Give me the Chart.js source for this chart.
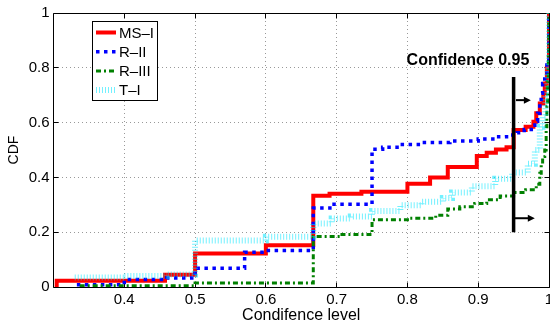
<!DOCTYPE html>
<html><head><meta charset="utf-8">
<script src="https://cdn.jsdelivr.net/npm/chart.js@4.4.1/dist/chart.umd.min.js"></script>
<style>
html,body{margin:0;padding:0;overflow:hidden;background:#fff;width:550px;height:324px}
#wrap{position:absolute;left:0;top:0;width:560px;height:324px}
</style>
</head><body><div id="wrap"><canvas id="c" width="560" height="324"></canvas></div>
<script>
// ---- data ----
const seriesNames = ['MS\u2013I', 'R\u2013II', 'R\u2013III', 'T\u2013I'];

const msI_x = [0.3045, 0.3045, 0.4575, 0.5, 0.6, 0.667, 0.69, 0.735, 0.8, 0.832, 0.857, 0.898, 0.912, 0.925, 0.94, 0.95, 0.967, 0.978, 0.982, 0.987, 0.992, 0.994, 0.997, 1.0];
const msI_y = [0, 0.023, 0.045, 0.122, 0.152, 0.333, 0.34, 0.348, 0.377, 0.40, 0.438, 0.478, 0.49, 0.502, 0.51, 0.573, 0.585, 0.603, 0.634, 0.67, 0.707, 0.743, 0.8, 1.0];

const rII_x = [0.333, 0.4, 0.46, 0.5, 0.57, 0.6, 0.667, 0.693, 0.75, 0.765, 0.79, 0.82, 0.86, 0.9, 0.925, 0.94, 0.955, 0.965, 0.975, 0.98, 0.984, 0.987, 0.989, 0.991, 0.994, 0.997, 1.0];
const rII_y = [0.008, 0.027, 0.033, 0.068, 0.127, 0.133, 0.288, 0.302, 0.503, 0.51, 0.52, 0.527, 0.533, 0.54, 0.548, 0.555, 0.563, 0.575, 0.59, 0.605, 0.634, 0.67, 0.707, 0.743, 0.78, 0.82, 1.0];

const rIII_x = [0.337, 0.5, 0.667, 0.705, 0.75, 0.8, 0.84, 0.857, 0.874, 0.895, 0.912, 0.931, 0.95, 0.967, 0.982, 0.987, 0.989, 0.991, 0.994, 0.996, 0.997, 0.998, 0.999, 1.0];
const rIII_y = [0.005, 0.015, 0.184, 0.192, 0.245, 0.251, 0.262, 0.285, 0.293, 0.305, 0.318, 0.332, 0.345, 0.355, 0.375, 0.415, 0.45, 0.476, 0.5, 0.585, 0.66, 0.75, 0.85, 1.0];

const tI_x = [0.33, 0.4, 0.46, 0.5, 0.6, 0.667, 0.693, 0.72, 0.75, 0.79, 0.82, 0.85, 0.863, 0.891, 0.924, 0.948, 0.97, 0.98, 0.987, 0.991, 0.995, 0.998, 1.0];
const tI_y = [0.035, 0.04, 0.046, 0.17, 0.183, 0.232, 0.25, 0.257, 0.277, 0.298, 0.311, 0.325, 0.345, 0.368, 0.395, 0.418, 0.45, 0.5, 0.585, 0.62, 0.7, 0.8, 1.0];

const thresholdX = [0.95, 0.95];
const thresholdY = [0.2, 0.766];
const arrowY = [0.682, 0.251];
const arrowX0 = [0.9533, 0.9518];
const arrowX1 = [0.9744, 0.980];
const annotationText = 'Confidence 0.95';
const annotationPos = [0.8855, 0.828];

const xTicks = [0.4, 0.5, 0.6, 0.7, 0.8, 0.9, 1];
const xTickLabels = ['0.4', '0.5', '0.6', '0.7', '0.8', '0.9', '1'];
const yTicks = [0, 0.2, 0.4, 0.6, 0.8, 1];
const yTickLabels = ['0', '0.2', '0.4', '0.6', '0.8', '1'];
const xTitle = 'Condifence level';
const yTitle = 'CDF';

// ---- chart ----
const FONT = "'Liberation Sans', Arial, Helvetica, sans-serif";
function pts(xs, ys) { return xs.map((x, i) => ({x: x, y: ys[i]})); }

const styles = [
  {color: '#ff0000', width: 4, dash: []},
  {color: '#0000ff', width: 3.5, dash: [3.5, 4.5]},
  {color: '#008000', width: 3, dash: [5, 3, 2, 3]},
  {color: 'rgba(0,230,255,0.55)', width: 6, dash: [1, 2]}
];
const seriesData = [pts(msI_x, msI_y), pts(rII_x, rII_y), pts(rIII_x, rIII_y), pts(tI_x, tI_y)];

const datasets = seriesNames.map((n, i) => ({
  label: n, data: seriesData[i], borderColor: styles[i].color, borderWidth: styles[i].width,
  borderDash: styles[i].dash, stepped: true, pointRadius: 0, fill: false,
  borderCapStyle: 'butt', borderJoinStyle: 'miter', order: 4 - i
}));
datasets.push({label: 'threshold', data: pts(thresholdX, thresholdY), borderColor: '#000', borderWidth: 3.5,
  pointRadius: 0, fill: false, order: 0, borderCapStyle: 'butt'});

const al = v => Math.floor(v) + 0.5;

const framePlugin = {
  id: 'frame',
  beforeDatasetsDraw(chart) {
    const {ctx, chartArea: a, scales: {x, y}} = chart;
    ctx.save();
    ctx.strokeStyle = '#000'; ctx.lineWidth = 1; ctx.setLineDash([]);
    ctx.beginPath();
    ctx.moveTo(al(a.left), al(a.top)); ctx.lineTo(al(a.right), al(a.top));
    ctx.lineTo(al(a.right), al(a.bottom)); ctx.lineTo(al(a.left), al(a.bottom)); ctx.closePath();
    ctx.stroke();
    ctx.beginPath();
    xTicks.forEach(v => {
      const px = al(x.getPixelForValue(v));
      ctx.moveTo(px, al(a.bottom)); ctx.lineTo(px, al(a.bottom) - 5);
      ctx.moveTo(px, al(a.top)); ctx.lineTo(px, al(a.top) + 5);
    });
    yTicks.forEach(v => {
      const py = al(y.getPixelForValue(v));
      ctx.moveTo(al(a.left), py); ctx.lineTo(al(a.left) + 5, py);
      ctx.moveTo(al(a.right), py); ctx.lineTo(al(a.right) - 5, py);
    });
    ctx.stroke();
    ctx.restore();
  },
  afterDatasetsDraw(chart) {
    const {ctx, chartArea: a, scales: {x, y}} = chart;
    ctx.save();
    // arrows
    ctx.strokeStyle = '#000'; ctx.fillStyle = '#000'; ctx.lineWidth = 2; ctx.setLineDash([]);
    arrowY.forEach((yv, i) => {
      const py = y.getPixelForValue(yv);
      const x0 = x.getPixelForValue(arrowX0[i]), x1 = x.getPixelForValue(arrowX1[i]);
      ctx.beginPath(); ctx.moveTo(x0, py); ctx.lineTo(x1 - 5, py); ctx.stroke();
      ctx.beginPath(); ctx.moveTo(x1, py); ctx.lineTo(x1 - 7, py - 3.5); ctx.lineTo(x1 - 7, py + 3.5); ctx.closePath(); ctx.fill();
    });
    // annotation text
    ctx.font = 'bold 16px ' + FONT;
    ctx.textAlign = 'center'; ctx.textBaseline = 'middle';
    ctx.fillText(annotationText, x.getPixelForValue(annotationPos[0]), y.getPixelForValue(annotationPos[1]));
    // legend
    const lx = a.left + 38.5, ly = a.top + 8, lw = 65, lh = 79;
    ctx.fillStyle = '#fff'; ctx.fillRect(lx, ly, lw, lh);
    ctx.strokeStyle = '#000'; ctx.lineWidth = 1;
    ctx.strokeRect(Math.round(lx) + 0.5, Math.round(ly) + 0.5, lw, lh);
    ctx.font = '15px ' + FONT; ctx.textAlign = 'left'; ctx.textBaseline = 'middle';
    seriesNames.forEach((n, i) => {
      const ry = ly + 11.5 + i * 19.2;
      const s = styles[i];
      ctx.save();
      ctx.strokeStyle = s.color; ctx.lineWidth = s.width; ctx.setLineDash(s.dash); ctx.lineCap = 'butt';
      ctx.beginPath(); ctx.moveTo(lx + 4, ry); ctx.lineTo(lx + 24, ry); ctx.stroke();
      ctx.restore();
      ctx.fillStyle = '#000';
      ctx.fillText(n, lx + 27, ry + 1);
    });
    ctx.restore();
  }
};

new Chart(document.getElementById('c'), {
  type: 'line',
  data: {datasets: datasets},
  options: {
    responsive: false, animation: false, devicePixelRatio: 1,
    layout: {padding: {left: 0, right: 11, top: 13, bottom: 0}},
    plugins: {legend: {display: false}, tooltip: {enabled: false}},
    scales: {
      x: {
        type: 'linear', min: 0.3, max: 1,
        afterBuildTicks: s => { s.ticks = xTicks.map(v => ({value: v})); },
        afterFit: s => { s.height = 37; },
        ticks: {autoSkip: false, maxRotation: 0, color: '#000', padding: 4,
          font: {family: FONT, size: 15}, callback: (v, i) => xTickLabels[i]},
        grid: {color: '#999999', lineWidth: 1, drawTicks: false},
        border: {display: false, dash: [1, 3]},
        title: {display: true, text: xTitle, color: '#000', font: {family: FONT, size: 16}, padding: {top: 0, bottom: -1}}
      },
      y: {
        type: 'linear', min: 0, max: 1,
        afterBuildTicks: s => { s.ticks = yTicks.map(v => ({value: v})); },
        afterFit: s => { s.width = 53.5; },
        ticks: {autoSkip: false, color: '#000', padding: 4,
          font: {family: FONT, size: 15}, callback: (v, i) => yTickLabels[i]},
        grid: {color: '#999999', lineWidth: 1, drawTicks: false},
        border: {display: false, dash: [1, 3]},
        title: {display: true, text: yTitle, color: '#000', font: {family: FONT, size: 14}, padding: {top: 6, bottom: 0}}
      }
    }
  },
  plugins: [framePlugin]
});
</script>
</body></html>
